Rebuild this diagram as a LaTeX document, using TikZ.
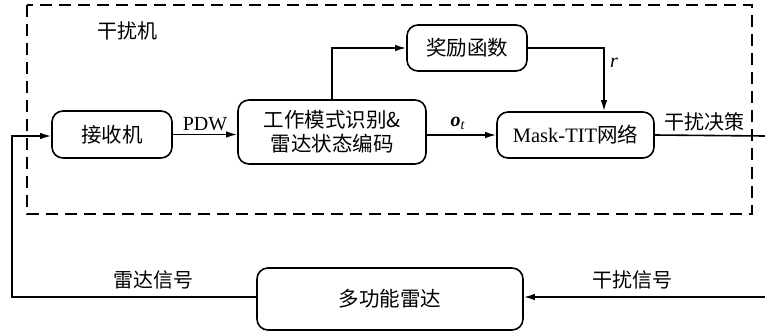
\documentclass[tikz,border=0pt]{standalone}
\usepackage{fontspec}
\setmainfont{Liberation Serif}
\newfontfamily\cjk{Noto Sans CJK SC}
\usetikzlibrary{arrows.meta}
\begin{document}
\begin{tikzpicture}[x=1pt,y=-1pt,
  blk/.style={draw,line width=1.6pt,rounded corners=11pt,align=center,inner sep=0pt,font=\fontsize{20.5}{23}\selectfont},
  conn/.style={line width=1.6pt},
  arr/.style={conn,-{Latex[length=11pt,width=6.5pt]}},
  lbl/.style={font=\fontsize{20}{22}\selectfont}]
\useasboundingbox (0,0) rectangle (765,335);
\draw[line width=1.2pt,dash pattern=on 12pt off 7pt] (27,5) rectangle (752,214);
\node[font=\fontsize{20}{22}\selectfont] (jam) at (127,31) {\cjk 干扰机};
\node[blk,minimum width=120pt,minimum height=47pt] (rx) at (112,134.5) {\cjk 接收机};
\node[blk,minimum width=188pt,minimum height=64pt,font=\fontsize{20.5}{24}\selectfont] (wm) at (332,132) {\cjk 工作模式识别\&\\\cjk 雷达状态编码};
\node[blk,minimum width=120pt,minimum height=46pt] (rw) at (467,48) {\cjk 奖励函数};
\node[blk,minimum width=157pt,minimum height=46pt] (mt) at (575.5,135) {Mask-TIT{\cjk 网络}};
\node[blk,minimum width=266pt,minimum height=62pt] (mr) at (390,299) {\cjk 多功能雷达};
\coordinate (fl) at (12,297);
\coordinate (fu) at (12,136);
\coordinate (ro) at (765,136);
\coordinate (ri) at (765,297);
\draw[arr] (rx.east) -- node[above,lbl,yshift=0pt]{PDW} (wm.west|-rx.east);
\draw[arr] (wm.east|-mt.west) -- node[above,lbl,pos=0.45,yshift=1pt]{\textbf{\textit{o}}\textsubscript{\textit{t}}} (mt.west);
\draw[arr] (wm.north) |- (rw.west);
\draw[arr] (rw.east) -| node[pos=0.62,right,lbl,xshift=2pt]{\textit{r}} (mt.north-|604,0);
\draw[conn] (mt.east) -- node[above,lbl,pos=0.45]{\cjk 干扰决策} (ro);
\draw[arr] (ri) -- node[above,lbl,yshift=4pt,pos=0.55]{\cjk 干扰信号} (mr.east|-ri);
\draw[arr] (mr.west|-fl) -- node[above,lbl,yshift=4pt,pos=0.42]{\cjk 雷达信号} (fl) -- (fu) -- (rx.west|-fu);
\end{tikzpicture}
\end{document}
